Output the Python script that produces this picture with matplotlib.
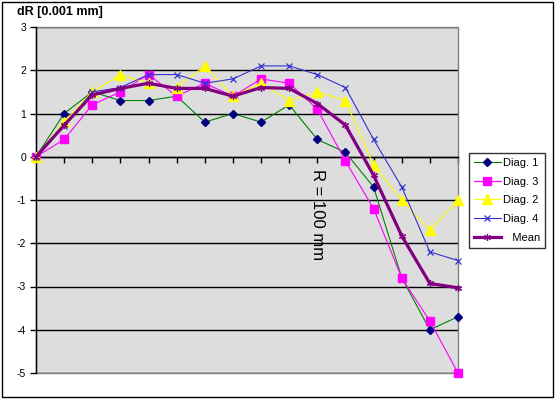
import matplotlib
matplotlib.use("Agg")
import matplotlib.pyplot as plt
from matplotlib.patches import Rectangle

plt.rcParams['font.family'] = ['Liberation Sans', 'DejaVu Sans']

# Data
positions = list(range(16))
diag1 = [0, 1.0, 1.5, 1.3, 1.3, 1.4, 0.8, 1.0, 0.8, 1.2, 0.4, 0.1, -0.7, -2.8, -4.0, -3.7]
diag3 = [0, 0.4, 1.2, 1.5, 1.9, 1.4, 1.7, 1.4, 1.8, 1.7, 1.1, -0.1, -1.2, -2.8, -3.8, -5.0]
diag2 = [0, 0.8, 1.5, 1.9, 1.7, 1.6, 2.1, 1.4, 1.7, 1.3, 1.5, 1.3, -0.2, -1.0, -1.7, -1.0]
diag4 = [0, 0.7, 1.5, 1.6, 1.9, 1.9, 1.7, 1.8, 2.1, 2.1, 1.9, 1.6, 0.4, -0.7, -2.2, -2.4]
mean = [0, 0.73, 1.43, 1.58, 1.70, 1.58, 1.58, 1.40, 1.60, 1.58, 1.23, 0.73, -0.43, -1.83, -2.93, -3.03]
labels = ['Diag. 1', 'Diag. 3', 'Diag. 2', 'Diag. 4', '   Mean']
y_ticks = [-5, -4, -3, -2, -1, 0, 1, 2, 3]
title = 'dR [0.001 mm]'
note = 'R = 100 mm'

W, H = 555, 399
fig = plt.figure(figsize=(W / 100, H / 100), dpi=100)
fig.patch.set_facecolor('white')
ax = fig.add_axes([36 / W, 1 - 373 / H, (458 - 36) / W, (373 - 27) / H])
ax.set_facecolor('#dddddd')

ax.set_xlim(0, 15)
ax.set_ylim(-5, 3)
ax.set_yticks(y_ticks)
ax.set_yticklabels([str(v) for v in y_ticks], fontsize=7.5)
ax.set_xticks(positions)
ax.set_xticklabels([])

ax.set_axisbelow(True)
ax.yaxis.grid(True, color='black', lw=1.0)
ax.xaxis.grid(False)

# spines
for s in ['top', 'right']:
    ax.spines[s].set_visible(False)
ax.spines['left'].set_color('black')
ax.spines['left'].set_linewidth(1.0)
ax.spines['bottom'].set_position(('data', 0))
ax.spines['bottom'].set_color('black')
ax.spines['bottom'].set_linewidth(1.0)
ax.tick_params(axis='x', direction='out', length=4, width=1, color='black')
ax.tick_params(axis='y', direction='out', length=4, width=1, color='black', pad=3)

border = Rectangle((0, 0), 1, 1, transform=ax.transAxes, fill=False,
                   edgecolor='#808080', lw=1.0, zorder=1, clip_on=False)
ax.add_patch(border)

ax.plot(positions, diag1, color='#008000', lw=0.8, marker='D', ms=4.2,
        mfc='#000080', mec='#000080', label=labels[0], zorder=3, clip_on=False)
ax.plot(positions, diag3, color='#ff00ff', lw=0.8, marker='s', ms=5.5,
        mfc='#ff00ff', mec='#ff00ff', label=labels[1], zorder=3, clip_on=False)
ax.plot(positions, diag2, color='#ffff00', lw=0.8, marker='^', ms=6.5,
        mfc='#ffff00', mec='#ffff00', label=labels[2], zorder=3, clip_on=False)
ax.plot(positions, diag4, color='#3333cc', lw=0.8, marker='x', ms=4.5,
        mew=0.9, mec='#3333cc', label=labels[3], zorder=3, clip_on=False)
ax.plot(positions, mean, color='#800080', lw=2.3, marker=(6, 2, 0), ms=5,
        mew=0.9, mec='#800080', label=labels[4], zorder=4, clip_on=False)

ax.text(0.666, 0.457, note, transform=ax.transAxes, rotation=-90,
        ha='center', va='center', fontsize=12)

fig.text(17 / W, 1 - 12 / H, title, ha='left', va='center',
         fontsize=9, fontweight='bold')

leg = fig.legend(loc='upper left', bbox_to_anchor=(469 / W, 1 - 153 / H),
                 bbox_transform=fig.transFigure, fontsize=8, frameon=True,
                 fancybox=False, shadow=False, borderaxespad=0,
                 borderpad=0.45, handlelength=2.4, handletextpad=0.2,
                 labelspacing=0.78)
leg.get_frame().set_edgecolor('black')
leg.get_frame().set_linewidth(1.0)

fig.patches.append(Rectangle((1.5 / W, 2 / H), 551.5 / W, 395 / H,
                             transform=fig.transFigure, fill=False,
                             edgecolor='black', lw=1.0))

fig.savefig('out.png', dpi=100)
